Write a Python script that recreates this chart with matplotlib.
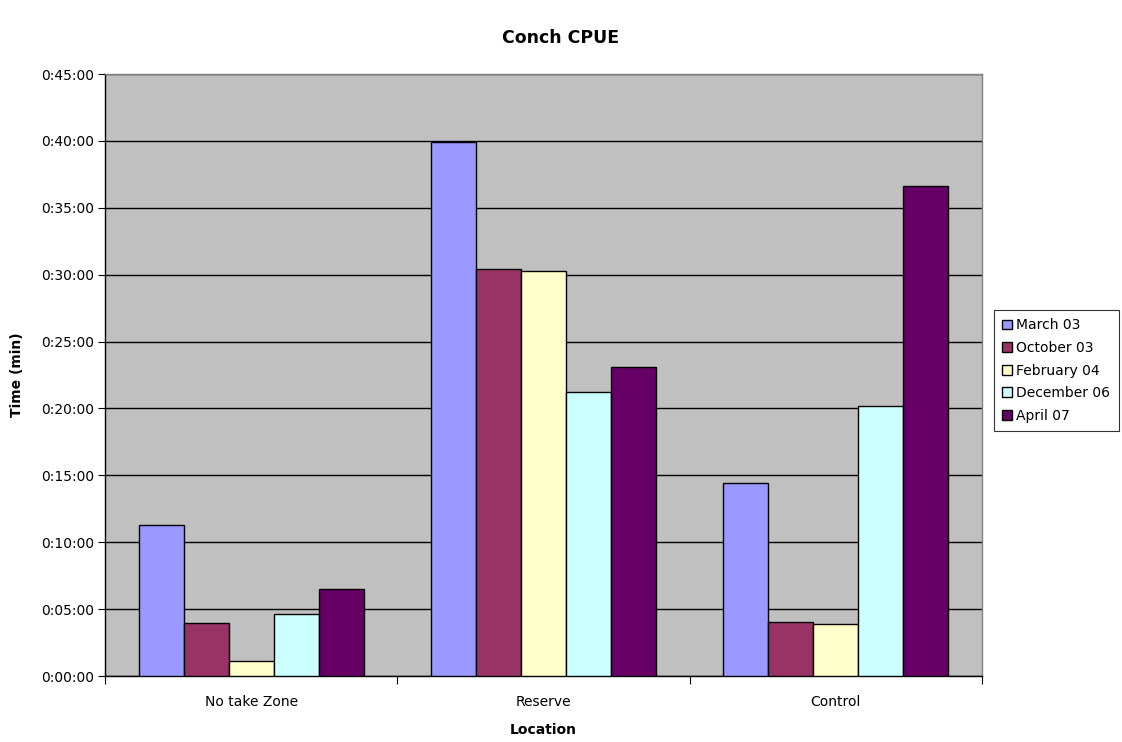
import matplotlib
matplotlib.use("Agg")
import matplotlib.pyplot as plt
import numpy as np
from matplotlib.ticker import FuncFormatter, MultipleLocator, FixedLocator

plt.rcParams['font.family'] = ['DejaVu Sans']

locations = ["No take Zone", "Reserve", "Control"]
series_names = ["March 03", "October 03", "February 04", "December 06", "April 07"]
# CPUE time in minutes
march_03 = [11.3, 39.9, 14.4]
october_03 = [3.95, 30.4, 4.0]
february_04 = [1.15, 30.25, 3.85]
december_06 = [4.6, 21.25, 20.2]
april_07 = [6.5, 23.1, 36.6]
colors = ["#9999FF", "#993366", "#FFFFCC", "#CCFFFF", "#660066"]

series = [march_03, october_03, february_04, december_06, april_07]

fig = plt.figure(figsize=(11.22, 7.42), dpi=100)
ax = fig.add_axes([105 / 1122, 66 / 742, 877 / 1122, 602 / 742])
ax.set_facecolor("#C0C0C0")

x = np.arange(len(locations))
width = 0.154
for i, (vals, name, c) in enumerate(zip(series, series_names, colors)):
    offs = (i - 2) * width
    ax.bar(x + offs, vals, width=width, color=c, edgecolor="black",
           linewidth=1.0, label=name, zorder=3)

ax.set_xlim(-0.5, len(locations) - 0.5)
ax.set_ylim(0, 45)
ax.yaxis.set_major_locator(MultipleLocator(5))


def hms(v, pos):
    total = int(round(v * 60))
    h, rem = divmod(total, 3600)
    m, s = divmod(rem, 60)
    return f"{h}:{m:02d}:{s:02d}"


ax.yaxis.set_major_formatter(FuncFormatter(hms))
ax.grid(axis="y", color="#000000", linewidth=1.0, zorder=1)

# category boundaries as ticks, names as minor tick labels at centres
ax.xaxis.set_major_locator(FixedLocator(np.arange(-0.5, len(locations), 1.0)))
ax.xaxis.set_major_formatter(FuncFormatter(lambda v, p: ""))
ax.xaxis.set_minor_locator(FixedLocator(x))
ax.set_xticklabels(locations, minor=True)
ax.tick_params(axis="x", which="major", length=6, direction="out", color="black")
ax.tick_params(axis="x", which="minor", length=0, pad=14, labelsize=10)
ax.tick_params(axis="y", length=5, direction="out", labelsize=10, pad=3)

for side in ("top", "right"):
    ax.spines[side].set_color("#808080")
    ax.spines[side].set_linewidth(1.0)
for side in ("left", "bottom"):
    ax.spines[side].set_color("black")
    ax.spines[side].set_linewidth(1.0)

ax.set_xlabel("Location", fontsize=10, fontweight="bold", labelpad=10)
ax.set_ylabel("Time (min)", fontsize=10, fontweight="bold", labelpad=12)
fig.text(0.5, 1 - 38 / 742, "Conch CPUE", ha="center", va="center",
         fontsize=12.5, fontweight="bold")

leg = ax.legend(loc="upper left", bbox_to_anchor=(994 / 1122, 1 - 310 / 742),
                bbox_transform=fig.transFigure, frameon=True, fancybox=False,
                edgecolor="black", fontsize=10, handlelength=0.7,
                handleheight=0.7, handletextpad=0.3, borderpad=0.6,
                labelspacing=0.62, borderaxespad=0)
leg.get_frame().set_linewidth(0.8)

fig.savefig("out.png", dpi=100, facecolor="white")
